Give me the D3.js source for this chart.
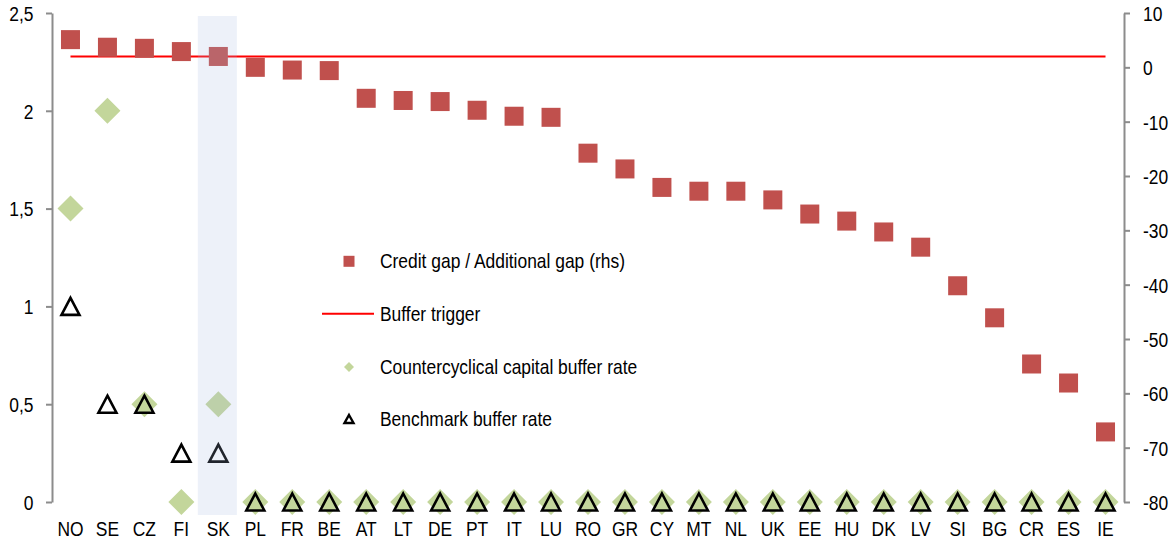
<!DOCTYPE html>
<html>
<head>
<meta charset="utf-8">
<script src="https://cdn.jsdelivr.net/npm/d3@7"></script>
<style>
  html, body { margin: 0; padding: 0; background: #ffffff; }
  svg text { font-family: "Liberation Sans Narrow", "Arial Narrow", "Liberation Sans", Arial, sans-serif; fill: #000; }
</style>
</head>
<body>
<svg id="chart" width="1171" height="541"></svg>
<script>
// Countries, ordered by credit gap
const countries = ["NO","SE","CZ","FI","SK","PL","FR","BE","AT","LT","DE","PT","IT","LU","RO","GR","CY","MT","NL","UK","EE","HU","DK","LV","SI","BG","CR","ES","IE"];
// Credit gap / additional gap, percentage points (right axis)
const creditGap = [5.1,3.7,3.5,2.9,2.0,0.0,-0.5,-0.6,-5.7,-6.1,-6.3,-7.9,-9.0,-9.2,-15.8,-18.7,-22.1,-22.8,-22.8,-24.4,-27.0,-28.3,-30.3,-33.1,-40.2,-46.1,-54.6,-58.1,-67.1];
// Countercyclical capital buffer rate, % (left axis)
const ccybRate = [1.5,2,0.5,0,0.5,0,0,0,0,0,0,0,0,0,0,0,0,0,0,0,0,0,0,0,0,0,0,0,0];
// Benchmark buffer rate, % (left axis)
const benchmarkRate = [1,0.5,0.5,0.25,0.25,0,0,0,0,0,0,0,0,0,0,0,0,0,0,0,0,0,0,0,0,0,0,0,0];
// Buffer trigger threshold (right axis)
const bufferTrigger = 2;
const highlighted = "SK";
const leftTicks = [0,0.5,1,1.5,2,2.5];
const rightTicks = [10,0,-10,-20,-30,-40,-50,-60,-70,-80];
const legendLabels = ["Credit gap / Additional gap (rhs)","Buffer trigger","Countercyclical capital buffer rate","Benchmark buffer rate"];

const svg = d3.select("#chart");
const plotLeft = 52, plotRight = 1124, plotTop = 13, plotBottom = 502;

const x = d3.scaleBand().domain(countries).range([plotLeft, plotRight]).padding(0);
const cx = c => x(c) + x.bandwidth() / 2;
const yL = d3.scaleLinear().domain([0, 2.5]).range([plotBottom, plotTop]);
const yR = d3.scaleLinear().domain([-80, 10]).range([plotBottom, plotTop]);

const RED = "#c0504d", GREEN = "#c3d69b", AXIS = "#8c8c8c";
const FONT_SIZE = 20.5;

// triangle centred on its bounding box
function trianglePath(w, h) {
  return `M0,${-h/2}L${w/2},${h/2}L${-w/2},${h/2}Z`;
}
function diamondPath(d) {
  const r = d / 2;
  return `M0,${-r}L${r},0L0,${r}L${-r},0Z`;
}
// squeeze text horizontally around its anchor x for a condensed sans look
function condense(sel, k = 0.85) {
  sel.each(function () {
    const t = d3.select(this);
    const ax = +t.attr("x") || 0;
    t.attr("transform", `translate(${ax * (1 - k)},0) scale(${k},1)`);
  });
}

// Axes
const fmtL = d => String(d).replace(".", ",");
const gL = svg.append("g").attr("transform", `translate(${plotLeft},0)`)
  .call(d3.axisLeft(yL).tickValues(leftTicks).tickFormat(fmtL).tickSize(6).tickSizeOuter(0).tickPadding(12.5));
const gR = svg.append("g").attr("transform", `translate(${plotRight},0)`)
  .call(d3.axisRight(yR).tickValues(rightTicks).tickFormat(d => String(d)).tickSize(6).tickSizeOuter(0).tickPadding(13));
[gL, gR].forEach(g => {
  g.select(".domain").attr("stroke", AXIS).attr("stroke-width", 2);
  g.selectAll(".tick line").attr("stroke", AXIS).attr("stroke-width", 2);
  g.selectAll(".tick text").attr("font-size", FONT_SIZE).attr("font-family", null).attr("dy", "0.36em").call(condense);
});

// Category labels
svg.append("g").selectAll("text").data(countries).join("text")
  .attr("x", d => cx(d)).attr("y", 536.5)
  .attr("text-anchor", "middle").attr("font-size", FONT_SIZE).text(d => d)
  .call(condense);

// Buffer trigger line
svg.append("line")
  .attr("x1", cx(countries[0])).attr("x2", cx(countries[countries.length - 1]))
  .attr("y1", yR(bufferTrigger)).attr("y2", yR(bufferTrigger))
  .attr("stroke", "#ff0000").attr("stroke-width", 2);

// Credit gap squares
const sq = 19;
svg.append("g").selectAll("rect").data(countries).join("rect")
  .attr("x", d => cx(d) - sq / 2)
  .attr("y", (d, i) => yR(creditGap[i]) - sq / 2)
  .attr("width", sq).attr("height", sq).attr("fill", RED);

// Countercyclical buffer diamonds
svg.append("g").selectAll("path").data(countries).join("path")
  .attr("d", diamondPath(26))
  .attr("transform", (d, i) => `translate(${cx(d)},${yL(ccybRate[i])})`)
  .attr("fill", GREEN);

// Benchmark buffer triangles
svg.append("g").selectAll("path").data(countries).join("path")
  .attr("d", trianglePath(18, 17))
  .attr("transform", (d, i) => `translate(${cx(d)},${yL(benchmarkRate[i])})`)
  .attr("fill", "none").attr("stroke", "#000").attr("stroke-width", 2.6).attr("stroke-linejoin", "miter");

// Highlight band
svg.append("rect")
  .attr("x", cx(highlighted) - 20.5).attr("y", 16)
  .attr("width", 39).attr("height", 499)
  .attr("fill", "rgb(165,185,225)").attr("fill-opacity", 0.2);

// Legend
const lg = svg.append("g");
const lx = 349, tx = 380;
const baselines = [268.3, 321.3, 373.6, 426];
lg.append("rect").attr("x", lx - 5.5).attr("y", baselines[0] - 7 - 5.5).attr("width", 11).attr("height", 11).attr("fill", RED);
lg.append("line").attr("x1", 322).attr("x2", 374).attr("y1", baselines[1] - 7.5).attr("y2", baselines[1] - 7.5)
  .attr("stroke", "#ff0000").attr("stroke-width", 2);
lg.append("path").attr("d", diamondPath(10)).attr("transform", `translate(${lx},${baselines[2] - 6.5})`).attr("fill", GREEN);
lg.append("path").attr("d", trianglePath(9, 8)).attr("transform", `translate(${lx},${baselines[3] - 7})`)
  .attr("fill", "none").attr("stroke", "#000").attr("stroke-width", 2.4);
lg.selectAll("text").data(legendLabels).join("text")
  .attr("x", tx).attr("y", (d, i) => baselines[i])
  .attr("font-size", FONT_SIZE).text(d => d)
  .call(condense);
</script>
</body>
</html>
